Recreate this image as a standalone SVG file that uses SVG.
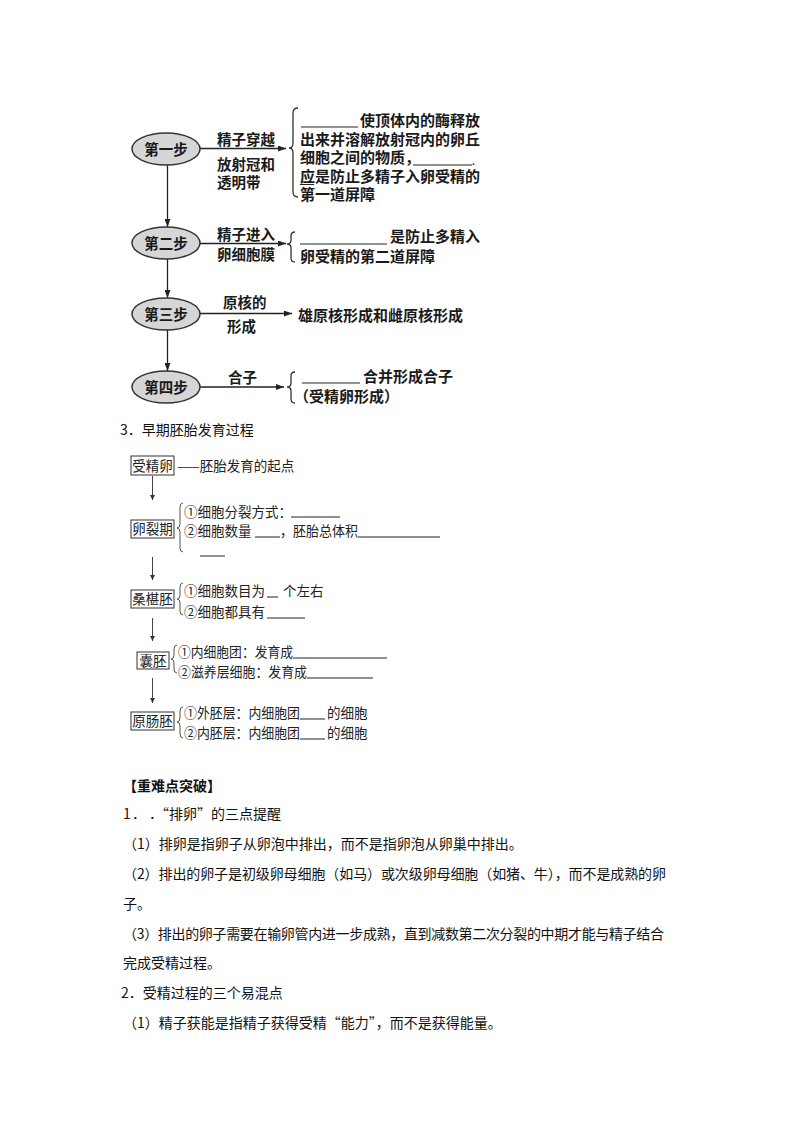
<svg xmlns="http://www.w3.org/2000/svg" width="800" height="1132" viewBox="0 0 800 1132">
<defs>
<style>
.b{font-family:"Noto Sans CJK SC","Noto Sans",sans-serif;font-weight:bold;fill:#1a1a1a}
.fl{font-size:14.5px}
.fr{font-size:15px}
.n{font-family:"Noto Sans CJK SC","Noto Sans",sans-serif;font-size:13.5px;fill:#222}
.t{font-family:"Noto Sans CJK SC","Noto Sans",sans-serif;font-size:14px;fill:#111}
.ell{fill:#d6d6d6;stroke:#333;stroke-width:1.5}
.ln{fill:none;stroke:#222;stroke-width:1.3}
.ln2{fill:none;stroke:#444;stroke-width:1}
.ul{stroke:#222;stroke-width:1}
.br{fill:none;stroke:#333;stroke-width:1.3}
.br2{fill:none;stroke:#555;stroke-width:1}
.box{fill:#fff;stroke:#333;stroke-width:1}
</style>
<marker id="ah" viewBox="0 0 8 6" refX="8" refY="3" markerWidth="8" markerHeight="6" orient="auto" markerUnits="userSpaceOnUse"><path d="M0,0 L8,3 L0,6 z" fill="#222"/></marker>
<marker id="ah2" viewBox="0 0 6 6" refX="6" refY="3" markerWidth="5" markerHeight="6" orient="auto" markerUnits="userSpaceOnUse"><path d="M0,0 L6,3 L0,6 z" fill="#333"/></marker>
</defs>
<rect width="800" height="1132" fill="#fff"/>

<!-- connectors -->
<g id="connectors">
<line class="ln" x1="200" y1="148.5" x2="286" y2="148.5" marker-end="url(#ah)"/>
<line class="ln" x1="200" y1="243.5" x2="286" y2="243.5" marker-end="url(#ah)"/>
<line class="ln" x1="200" y1="313.5" x2="292" y2="313.5" marker-end="url(#ah)"/>
<line class="ln" x1="200" y1="387" x2="284" y2="387" marker-end="url(#ah)"/>
<line class="ln" x1="167.5" y1="165" x2="167.5" y2="227" marker-end="url(#ah)"/>
<line class="ln" x1="167.5" y1="259" x2="167.5" y2="298" marker-end="url(#ah)"/>
<line class="ln" x1="167.5" y1="330" x2="167.5" y2="371" marker-end="url(#ah)"/>
<line class="ln2" x1="152.5" y1="476" x2="152.5" y2="500" marker-end="url(#ah2)"/>
<line class="ln2" x1="152.5" y1="557" x2="152.5" y2="580" marker-end="url(#ah2)"/>
<line class="ln2" x1="152.5" y1="618" x2="152.5" y2="641" marker-end="url(#ah2)"/>
<line class="ln2" x1="152.5" y1="678" x2="152.5" y2="703" marker-end="url(#ah2)"/>
</g>

<!-- step 1 -->
<g id="step1">
<ellipse class="ell" cx="166" cy="149" rx="34" ry="16"/>
<text class="b fl" x="166" y="155" text-anchor="middle">第一步</text>
<text class="b fl" x="217" y="145">精子穿越</text>
<text class="b fl" x="217" y="169.5">放射冠和</text>
<text class="b fl" x="217" y="187.5">透明带</text>
<path class="br" d="M298,108 Q293,108 293,113 L293,143 Q293,148 289,148 Q293,148 293,153 L293,192 Q293,197 298,197"/>
<line class="ul" x1="301" y1="127" x2="358" y2="127"/>
<text class="b fr" x="360" y="126">使顶体内的酶释放</text>
<text class="b fr" x="300" y="145">出来并溶解放射冠内的卵丘</text>
<text class="b fr" x="300" y="163">细胞之间的物质，</text>
<line class="ul" x1="413" y1="165" x2="472" y2="165"/>
<text class="b" font-size="9" x="472" y="165">.</text>
<text class="b fr" x="300" y="182">应是防止多精子入卵受精的</text>
<line class="ul" x1="300" y1="184.5" x2="314" y2="184.5"/>
<text class="b fr" x="300" y="200">第一道屏障</text>
</g>

<!-- step 2 -->
<g id="step2">
<ellipse class="ell" cx="166" cy="243" rx="34" ry="16"/>
<text class="b fl" x="166" y="249" text-anchor="middle">第二步</text>
<text class="b fl" x="217" y="240">精子进入</text>
<text class="b fl" x="217" y="260">卵细胞膜</text>
<path class="br" d="M295,232 Q291,232 291,236 L291,240 Q291,244 287,244 Q291,244 291,248 L291,258 Q291,262 295,262"/>
<line class="ul" x1="300" y1="244" x2="387" y2="244"/>
<text class="b fr" x="390" y="242">是防止多精入</text>
<text class="b fr" x="300" y="262">卵受精的第二道屏障</text>
</g>

<!-- step 3 -->
<g id="step3">
<ellipse class="ell" cx="166" cy="314" rx="34" ry="16"/>
<text class="b fl" x="166" y="320" text-anchor="middle">第三步</text>
<text class="b fl" x="223" y="308">原核的</text>
<text class="b fl" x="227" y="332">形成</text>
<text class="b fr" x="298" y="321">雄原核形成和雌原核形成</text>
</g>

<!-- step 4 -->
<g id="step4">
<ellipse class="ell" cx="166" cy="387" rx="34" ry="16"/>
<text class="b fl" x="166" y="393" text-anchor="middle">第四步</text>
<text class="b fl" x="228" y="383">合子</text>
<path class="br" d="M295,372 Q291,372 291,376 L291,383 Q291,387 287,387 Q291,387 291,391 L291,399 Q291,403 295,403"/>
<line class="ul" x1="302" y1="383" x2="360" y2="383"/>
<text class="b fr" x="363" y="382">合并形成合子</text>
<text class="b fr" x="294" y="402">（受精卵形成）</text>
</g>

<!-- heading -->
<text class="t" x="120" y="435">3．早期胚胎发育过程</text>

<!-- embryo flow -->
<g id="shoujingluan">
<rect class="box" x="131" y="456" width="43" height="19"/>
<text class="n" x="152.5" y="470.5" text-anchor="middle">受精卵</text>
<text class="n" x="177" y="471">——胚胎发育的起点</text>
</g>

<g id="luanlieqi">
<rect class="box" x="131" y="520" width="43" height="18"/>
<text class="n" x="152.5" y="534" text-anchor="middle">卵裂期</text>
<path class="br2" d="M183,503 Q180,503 180,507 L180,524 Q180,528 177,528 Q180,528 180,532 L180,548 Q180,552 183,552"/>
<text class="n" x="184" y="517">①细胞分裂方式：</text>
<line class="ul" x1="291" y1="517" x2="340" y2="517"/>
<text class="n" x="184" y="536">②细胞数量</text>
<line class="ul" x1="255" y1="537" x2="280" y2="537"/>
<text class="n" x="280" y="536" textLength="78" lengthAdjust="spacingAndGlyphs">，胚胎总体积</text>
<line class="ul" x1="358" y1="537" x2="440" y2="537"/>
<line class="ul" x1="200" y1="556" x2="225" y2="556"/>
</g>

<g id="sangshenpei">
<rect class="box" x="131" y="590" width="43" height="18"/>
<text class="n" x="152.5" y="604" text-anchor="middle">桑椹胚</text>
<path class="br2" d="M183,583 Q180,583 180,587 L180,595 Q180,599 177,599 Q180,599 180,603 L180,611 Q180,615 183,615"/>
<text class="n" x="184" y="596">①细胞数目为</text>
<line class="ul" x1="267" y1="597" x2="278" y2="597"/>
<text class="n" x="283" y="596">个左右</text>
<text class="n" x="184" y="617">②细胞都具有</text>
<line class="ul" x1="267" y1="618" x2="305" y2="618"/>
</g>

<g id="nangpei">
<rect class="box" x="137" y="652" width="32" height="17"/>
<text class="n" x="153" y="665.5" text-anchor="middle">囊胚</text>
<path class="br2" d="M177,645 Q174,645 174,649 L174,655 Q174,659 171,659 Q174,659 174,663 L174,669 Q174,673 177,673"/>
<text class="n" x="178" y="657" textLength="115" lengthAdjust="spacingAndGlyphs">①内细胞团：发育成</text>
<line class="ul" x1="293" y1="658" x2="387" y2="658"/>
<text class="n" x="178" y="677" textLength="129" lengthAdjust="spacingAndGlyphs">②滋养层细胞：发育成</text>
<line class="ul" x1="307" y1="678" x2="373" y2="678"/>
</g>

<g id="yuanchangpei">
<rect class="box" x="131" y="712" width="43" height="18"/>
<text class="n" x="152.5" y="726" text-anchor="middle">原肠胚</text>
<path class="br2" d="M183,707 Q180,707 180,711 L180,718 Q180,722 177,722 Q180,722 180,726 L180,734 Q180,738 183,738"/>
<text class="n" x="184" y="718" textLength="116" lengthAdjust="spacingAndGlyphs">①外胚层：内细胞团</text>
<line class="ul" x1="300" y1="719" x2="325" y2="719"/>
<text class="n" x="327" y="718">的细胞</text>
<text class="n" x="184" y="738" textLength="116" lengthAdjust="spacingAndGlyphs">②内胚层：内细胞团</text>
<line class="ul" x1="300" y1="739" x2="325" y2="739"/>
<text class="n" x="327" y="738">的细胞</text>
</g>

<!-- body text -->
<text class="t" x="123" y="791" font-weight="bold">【重难点突破】</text>
<text class="t" y="819"><tspan x="123">1</tspan><tspan x="132">．</tspan><tspan x="149">．</tspan><tspan x="155">“排卵”的三点提醒</tspan></text>
<text class="t" x="123" y="849">（1）排卵是指卵子从卵泡中排出，而不是指卵泡从卵巢中排出。</text>
<text class="t" x="123" y="879" textLength="543" lengthAdjust="spacing">（2）排出的卵子是初级卵母细胞（如马）或次级卵母细胞（如猪、牛），而不是成熟的卵</text>
<text class="t" x="123" y="909">子。</text>
<text class="t" x="123" y="939" textLength="541" lengthAdjust="spacing">（3）排出的卵子需要在输卵管内进一步成熟，直到减数第二次分裂的中期才能与精子结合</text>
<text class="t" x="123" y="968">完成受精过程。</text>
<text class="t" x="121" y="998">2．受精过程的三个易混点</text>
<text class="t" x="123" y="1028">（1）精子获能是指精子获得受精“能力”，而不是获得能量。</text>
</svg>
